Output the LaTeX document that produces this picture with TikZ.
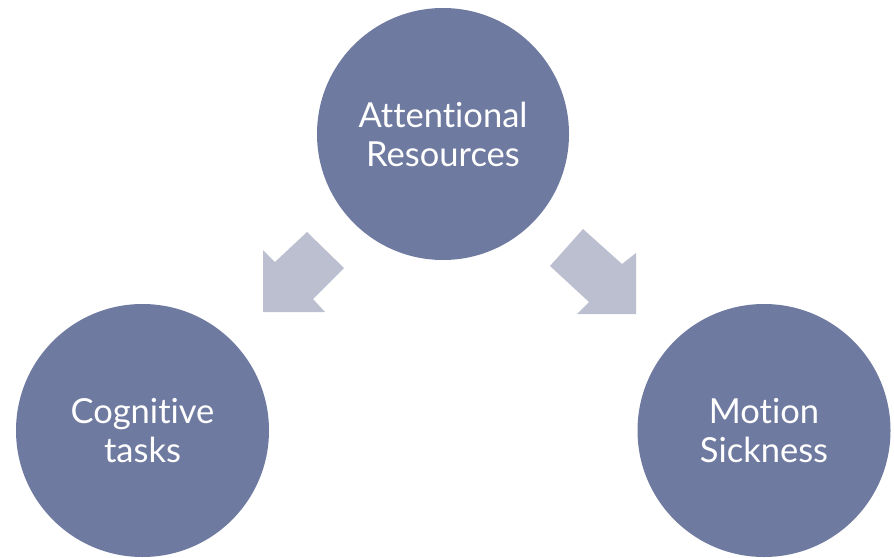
\documentclass[tikz,border=0pt]{standalone}
\usepackage{fontspec}
\setmainfont{Lato}[Ligatures={NoCommon}]
\definecolor{bubble}{RGB}{111,122,160}
\definecolor{flow}{RGB}{187,191,208}
\begin{document}
\begin{tikzpicture}[x=1pt,y=-1pt,
  bubble/.style={circle,fill=bubble,draw=none,inner sep=0pt,
    text=white,align=center,font=\fontsize{34.5}{39}\selectfont},
  flowarrow/.style={fill=flow,draw=none}]
  \useasboundingbox (0,0) rectangle (894,557);
  % the three concept circles
  \node[bubble,minimum size=252pt] (attn) at (443,134) {Attentional\\Resources};
  \node[bubble,minimum size=253pt] (cog) at (142.5,430.5) {Cognitive\\tasks};
  \node[bubble,minimum size=253pt] (mot) at (764,430.5) {Motion\\Sickness};
  % block arrows leading down to the lower circles
  \fill[flowarrow] (263,312) -- (263,250) -- (275,262) -- (307,232)
    -- (344,268) -- (313,299) -- (325,312) -- cycle;
  \fill[flowarrow] (636,314) -- (636,253) -- (622,264) -- (583,229)
    -- (550,266) -- (589,302) -- (577,314) -- cycle;
\end{tikzpicture}
\end{document}
